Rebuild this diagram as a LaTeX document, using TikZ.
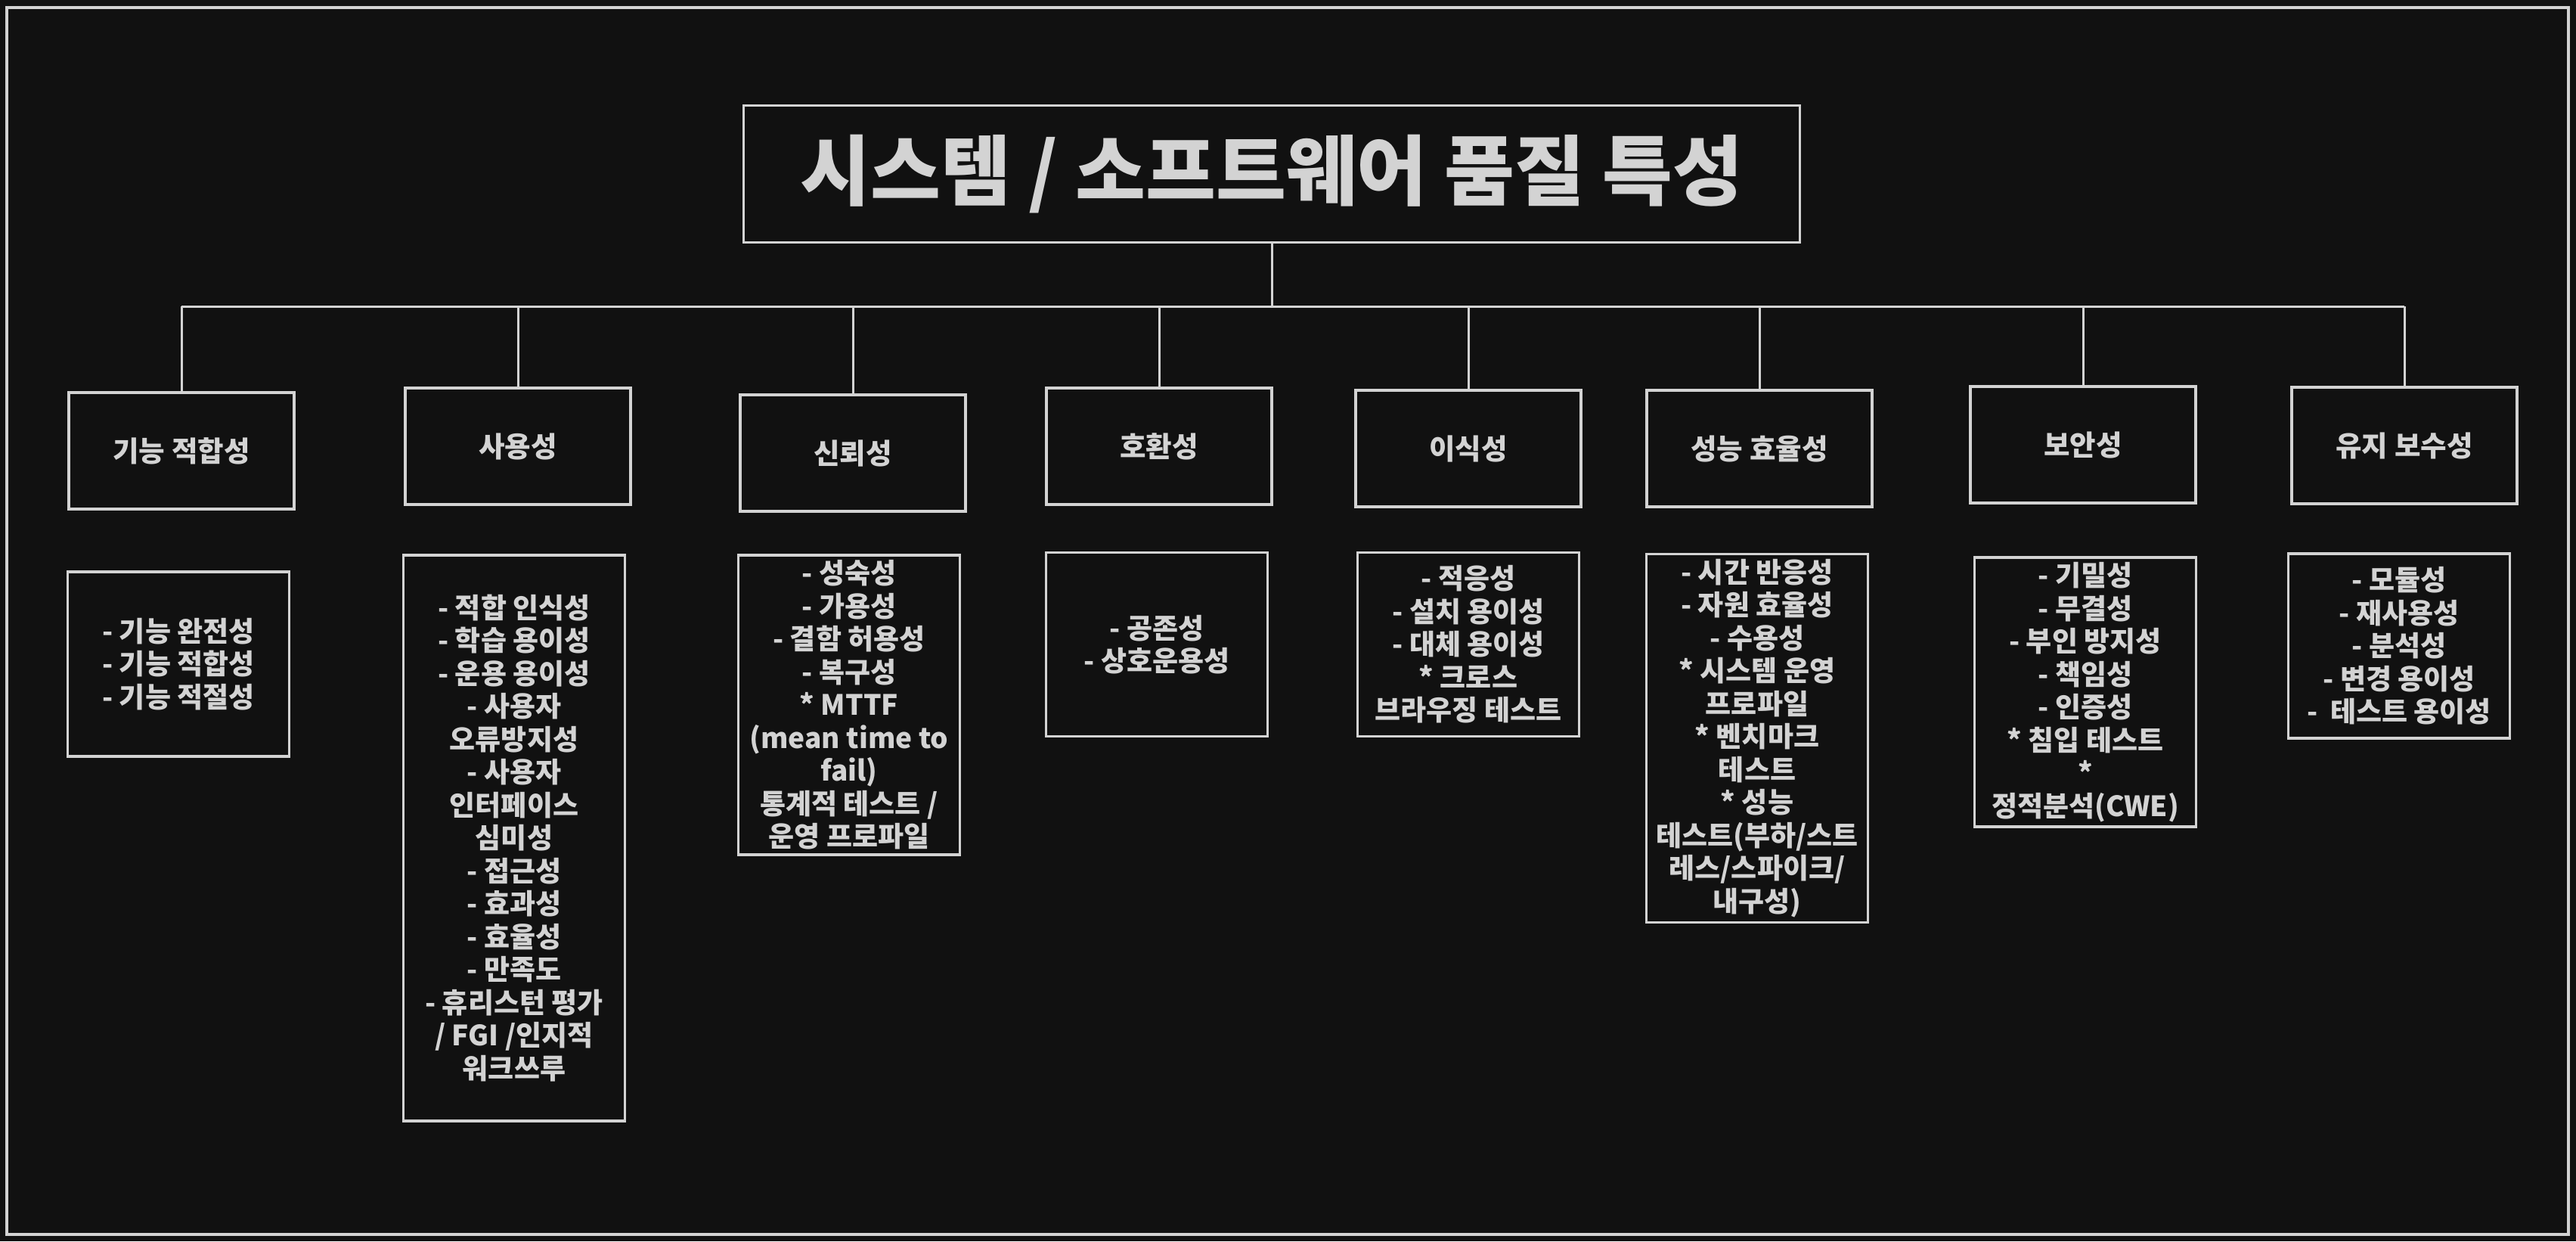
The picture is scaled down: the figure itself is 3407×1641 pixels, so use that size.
\documentclass[tikz,border=0pt]{standalone}
\usepackage{fontspec}
\setmainfont{Noto Sans CJK KR}
\definecolor{bg}{HTML}{111111}
\definecolor{fg}{HTML}{D3D3D3}
\begin{document}
\begin{tikzpicture}[x=1pt,y=-1pt,
  every node/.style={text=fg},
  titlebox/.style={draw=fg, line width=3.5pt, minimum width=1397pt, minimum height=181pt, inner sep=0pt, font=\fontsize{101}{110}\selectfont\bfseries},
  catbox/.style={draw=fg, line width=3.5pt, minimum width=298pt, minimum height=154pt, inner sep=0pt, align=center, font=\fontsize{37.5}{43.5}\selectfont\bfseries},
  detbox/.style={draw=fg, line width=3.5pt, minimum width=293pt, inner sep=0pt, align=center, font=\fontsize{37}{43.5}\selectfont\bfseries},
  conn/.style={draw=fg, line width=3pt}]
\fill[bg] (0,0) rectangle (3407,1641);
\useasboundingbox (0,0) rectangle (3407,1641);
\draw[fg, line width=4pt] (9,10) rectangle (3397,1632);

\node[titlebox] (title) at (1682,230) {시스템 / 소프트웨어 품질 특성};

\node[catbox] (c1) at (240,596) {기능 적합성};
\node[catbox] (c2) at (685,590) {사용성};
\node[catbox] (c3) at (1128,599) {신뢰성};
\node[catbox] (c4) at (1533,590) {호환성};
\node[catbox] (c5) at (1942,593) {이식성};
\node[catbox] (c6) at (2327,593) {성능 효율성};
\node[catbox] (c7) at (2755,588) {보안성};
\node[catbox] (c8) at (3180,589) {유지 보수성};

\coordinate (bus) at (1687,405);
\draw[conn] (title.south) -- (title.south |- bus);
\draw[conn] (c1.north |- bus) -- (c8.north |- bus);
\foreach \i in {1,...,8} {
  \draw[conn] (c\i.north |- bus) -- (c\i.north);
}

\node[detbox, minimum height=244pt] (d1) at (236,878) {- 기능 완전성\\- 기능 적합성\\- 기능 적절성};
\node[detbox, minimum height=748pt] (d2) at (680,1108) {- 적합 인식성\\- 학습 용이성\\- 운용 용이성\\- 사용자\\오류방지성\\- 사용자\\인터페이스\\심미성\\- 접근성\\- 효과성\\- 효율성\\- 만족도\\- 휴리스턴 평가\\/ FGI /인지적\\워크쓰루};
\node[detbox, minimum height=396pt] (d3) at (1123,932) {- 성숙성\\- 가용성\\- 결함 허용성\\- 복구성\\* MTTF\\(mean time to\\fail)\\통계적 테스트 /\\운영 프로파일};
\node[detbox, minimum height=243pt] (d4) at (1530,852) {- 공존성\\- 상호운용성};
\node[detbox, minimum height=243pt] (d5) at (1942,852) {- 적응성\\- 설치 용이성\\- 대체 용이성\\* 크로스\\브라우징 테스트};
\node[detbox, minimum height=487pt] (d6) at (2324,976) {- 시간 반응성\\- 자원 효율성\\- 수용성\\* 시스템 운영\\프로파일\\* 벤치마크\\테스트\\* 성능\\테스트(부하/스트\\레스/스파이크/\\내구성)};
\node[detbox, minimum height=356pt] (d7) at (2758,915) {- 기밀성\\- 무결성\\- 부인 방지성\\- 책임성\\- 인증성\\* 침입 테스트\\*\\정적분석(CWE)};
\node[detbox, minimum height=244pt] (d8) at (3173,854) {- 모듈성\\- 재사용성\\- 분석성\\- 변경 용이성\\-\ \ 테스트 용이성};
\end{tikzpicture}
\end{document}
